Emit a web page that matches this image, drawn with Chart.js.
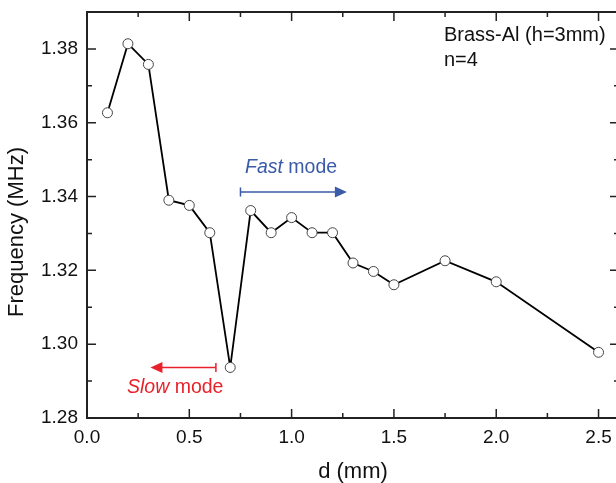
<!DOCTYPE html>
<html>
<head>
<meta charset="utf-8">
<script src="https://cdn.jsdelivr.net/npm/chart.js@4.4.1/dist/chart.umd.min.js"></script>
<style>
  html, body { margin: 0; padding: 0; background: #fff; overflow: hidden; }
  canvas { display: block; }
</style>
</head>
<body>
<canvas id="myChart" width="640" height="483"></canvas>
<script>
// thickness d (mm) and measured frequency (MHz)
let distancias = [0.1, 0.2, 0.3, 0.4, 0.5, 0.6, 0.7, 0.8, 0.9, 1.0, 1.1, 1.2, 1.3, 1.4, 1.5, 1.75, 2.0, 2.5];
let frequencias = [1.3627, 1.3814, 1.3758, 1.3390, 1.3376, 1.3302, 1.2937, 1.3362, 1.3302, 1.3343, 1.3302, 1.3302, 1.3220, 1.3197, 1.3161, 1.3226, 1.3169, 1.2978];

let ticksX = [0.0, 0.5, 1.0, 1.5, 2.0, 2.5];
let ticksY = [1.28, 1.30, 1.32, 1.34, 1.36, 1.38];

let tituloX = 'd (mm)';
let tituloY = 'Frequency (MHz)';
let legenda1 = 'Brass-Al (h=3mm)';
let legenda2 = 'n=4';

let fonte = '"Liberation Sans", Arial, sans-serif';
let azul = '#3b5ba8';
let vermelho = '#e8222b';

let ctx = document.getElementById("myChart");

let pontos = distancias.map((d, i) => ({ x: d, y: frequencias[i] }));

// inward major/minor ticks on all four sides + annotations
let extras = {
    id: 'extras',
    afterDraw(chart) {
        let c = chart.ctx;
        let a = chart.chartArea;
        let sx = chart.scales.x;
        let sy = chart.scales.y;
        c.save();
        c.strokeStyle = '#222';
        c.lineWidth = 2;
        c.beginPath();
        // frame top and right
        c.moveTo(a.left, a.top); c.lineTo(a.right, a.top); c.lineTo(a.right, a.bottom);
        c.stroke();
        c.lineWidth = 1.5;
        c.beginPath();
        for (let v = 0; v <= 2.6 + 1e-9; v += 0.25) {
            let px = sx.getPixelForValue(v);
            let len = Math.abs(v / 0.5 - Math.round(v / 0.5)) < 1e-6 ? 9 : 5;
            c.moveTo(px, a.bottom); c.lineTo(px, a.bottom - len);
            c.moveTo(px, a.top); c.lineTo(px, a.top + len);
        }
        for (let v = 1.28; v <= 1.39 + 1e-9; v += 0.01) {
            let py = sy.getPixelForValue(v);
            let len = Math.abs(v / 0.02 - Math.round(v / 0.02)) < 1e-6 ? 9 : 5;
            c.moveTo(a.left, py); c.lineTo(a.left + len, py);
            c.moveTo(a.right, py); c.lineTo(a.right - len, py);
        }
        c.stroke();

        // y title
        c.fillStyle = '#111';
        c.font = '22px ' + fonte;
        c.textAlign = 'center';
        c.textBaseline = 'middle';
        c.translate(17, 232);
        c.rotate(-Math.PI / 2);
        c.fillText(tituloY, 0, 0);
        c.setTransform(1, 0, 0, 1, 0, 0);

        // legend text
        c.font = '20px ' + fonte;
        c.textAlign = 'left';
        c.textBaseline = 'middle';
        c.fillStyle = '#111';
        c.fillText(legenda1, 444, 35);
        c.fillText(legenda2, 444, 60);

        // Fast mode
        let yF = sy.getPixelForValue(1.3412);
        let x0 = sx.getPixelForValue(0.75), x1 = sx.getPixelForValue(1.27);
        c.strokeStyle = azul; c.fillStyle = azul; c.lineWidth = 1.5;
        c.beginPath();
        c.moveTo(x0, yF); c.lineTo(x1 - 10, yF);
        c.moveTo(x0, yF - 4.5); c.lineTo(x0, yF + 4.5);
        c.stroke();
        c.beginPath();
        c.moveTo(x1, yF); c.lineTo(x1 - 12, yF - 5.5); c.lineTo(x1 - 12, yF + 5.5); c.closePath(); c.fill();
        c.font = 'italic 19.5px ' + fonte;
        c.fillText('Fast', 245, 168);
        let w = c.measureText('Fast ').width;
        c.font = '19.5px ' + fonte;
        c.fillText('mode', 245 + w, 168);

        // Slow mode
        let yS = sy.getPixelForValue(1.2937);
        let s0 = sx.getPixelForValue(0.63), s1 = sx.getPixelForValue(0.31);
        c.strokeStyle = vermelho; c.fillStyle = vermelho;
        c.beginPath();
        c.moveTo(s0, yS); c.lineTo(s1 + 10, yS);
        c.moveTo(s0, yS - 4.5); c.lineTo(s0, yS + 4.5);
        c.stroke();
        c.beginPath();
        c.moveTo(s1, yS); c.lineTo(s1 + 12, yS - 5.5); c.lineTo(s1 + 12, yS + 5.5); c.closePath(); c.fill();
        c.font = 'italic 19.5px ' + fonte;
        c.fillText('Slow', 127, 388);
        w = c.measureText('Slow ').width;
        c.font = '19.5px ' + fonte;
        c.fillText('mode', 127 + w, 388);
        c.restore();
    }
};

let meuGrafico = new Chart(ctx, {
    type: 'scatter',
    data: {
        datasets: [{
            data: pontos,
            showLine: true,
            borderColor: '#000',
            borderWidth: 1.8,
            pointRadius: 5,
            pointHoverRadius: 5,
            pointBackgroundColor: '#fff',
            pointBorderColor: '#444',
            pointBorderWidth: 1,
            tension: 0
        }]
    },
    options: {
        responsive: false,
        animation: false,
        layout: { padding: { top: 12, right: 21, left: 0, bottom: 0 } },
        plugins: { legend: { display: false }, tooltip: { enabled: false } },
        scales: {
            x: {
                type: 'linear',
                min: 0,
                max: 2.6,
                afterBuildTicks: s => { s.ticks = ticksX.map(v => ({ value: v })); },
                afterFit: s => { s.height = 65; s.paddingLeft = 0; s.paddingRight = 0; },
                grid: { display: false, drawTicks: false },
                border: { display: true, color: '#222', width: 2 },
                ticks: {
                    padding: 8,
                    color: '#111',
                    font: { family: fonte, size: 19 },
                    maxRotation: 0,
                    callback: v => Number(v).toFixed(1)
                },
                title: {
                    display: true,
                    text: tituloX,
                    color: '#111',
                    font: { family: fonte, size: 22, lineHeight: 1 },
                    padding: { top: 0, bottom: 0 }
                }
            },
            y: {
                type: 'linear',
                min: 1.28,
                max: 1.39,
                afterBuildTicks: s => { s.ticks = ticksY.map(v => ({ value: v })); },
                afterFit: s => { s.width = 87; s.paddingTop = 0; s.paddingBottom = 0; },
                grid: { display: false, drawTicks: false },
                border: { display: true, color: '#222', width: 2 },
                ticks: {
                    padding: 9,
                    color: '#111',
                    font: { family: fonte, size: 19 },
                    callback: v => Number(v).toFixed(2)
                }
            }
        }
    },
    plugins: [extras]
});
</script>
</body>
</html>
